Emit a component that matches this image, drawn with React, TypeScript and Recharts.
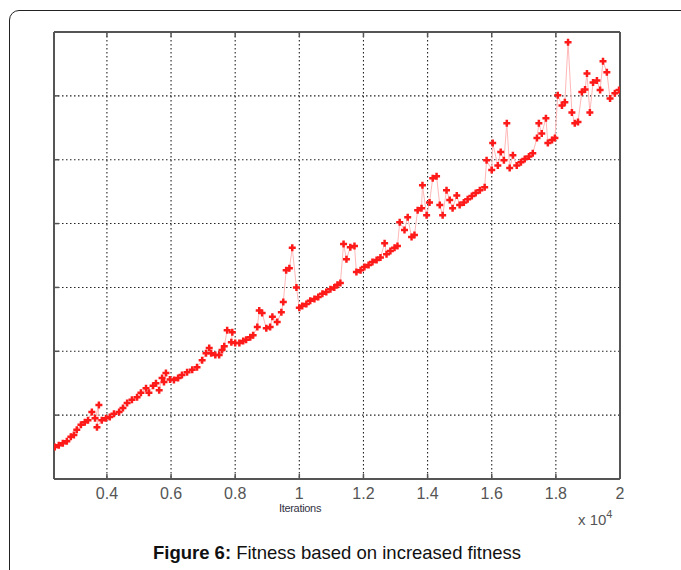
import React from "react";
import { LineChart, Line, XAxis, YAxis, CartesianGrid } from "recharts";

// iterations
const iterations = [
  2375, 2500, 2625, 2750, 2875, 2970, 3060, 3190, 3310, 3410, 3530, 3630, 3750, 3690, 3840,
  3970, 4090, 4220, 4380, 4500, 4630, 4780, 4940, 5060, 5220, 5310, 5440, 5530, 5630, 5720,
  5780, 5840, 5970, 6090, 6220, 6340, 6500, 6660, 6810, 6970, 7090, 7190, 7250, 7380, 7500,
  7590, 7660, 7750, 7910, 7880, 8000, 8130, 8250, 8340, 8470, 8560, 8690, 8750, 8840, 8970,
  9090, 9160, 9310, 9440, 9500, 9590, 9690, 9780, 9910, 10000, 10090, 10220, 10340, 10470, 10590,
  10720, 10840, 10970, 11090, 11190, 11280, 11380, 11470, 11590, 11720, 11780, 11910, 12030, 12160, 12280,
  12410, 12530, 12660, 12720, 12840, 12970, 13060, 13130, 13280, 13380, 13500, 13590, 13690, 13810, 13840,
  13970, 14060, 14160, 14280, 14380, 14470, 14590, 14690, 14780, 14910, 15000, 15130, 15250, 15380, 15500,
  15630, 15780, 15840, 16000, 16030, 16190, 16280, 16380, 16470, 16560, 16660, 16780, 16910, 17030, 17160,
  17280, 17410, 17470, 17560, 17690, 17750, 17880, 17970, 18060, 18190, 18280, 18380, 18500, 18590, 18690,
  18810, 18910, 18970, 19060, 19160, 19280, 19380, 19470, 19590, 19690, 19840, 19970,
];

const fitness = [
  0.5, 0.53, 0.56, 0.59, 0.66, 0.69, 0.77, 0.85, 0.89, 0.92, 1.05, 0.95, 1.16, 0.81, 0.92,
  0.95, 0.97, 1.02, 1.05, 1.11, 1.19, 1.24, 1.28, 1.35, 1.42, 1.35, 1.46, 1.5, 1.39, 1.58,
  1.52, 1.66, 1.56, 1.55, 1.58, 1.63, 1.67, 1.71, 1.75, 1.86, 1.97, 2.05, 1.97, 1.94, 1.94,
  2.02, 2.08, 2.33, 2.3, 2.14, 2.13, 2.13, 2.16, 2.18, 2.22, 2.25, 2.38, 2.64, 2.6, 2.36,
  2.38, 2.54, 2.46, 2.61, 2.77, 3.27, 3.3, 3.62, 3.0, 2.68, 2.71, 2.74, 2.79, 2.82, 2.85,
  2.9, 2.93, 2.97, 3.0, 3.04, 3.07, 3.68, 3.44, 3.63, 3.65, 3.24, 3.27, 3.32, 3.35, 3.4,
  3.43, 3.47, 3.69, 3.52, 3.57, 3.62, 3.65, 4.02, 3.9, 4.1, 3.79, 3.82, 4.21, 4.24, 4.6,
  4.13, 4.33, 4.71, 4.74, 4.29, 4.13, 4.52, 4.37, 4.24, 4.44, 4.29, 4.33, 4.38, 4.43, 4.48,
  4.52, 4.57, 4.99, 4.84, 5.26, 4.91, 5.12, 4.99, 5.57, 4.87, 5.07, 4.91, 4.96, 5.01, 5.05,
  5.1, 5.34, 5.57, 5.41, 5.65, 5.26, 5.31, 5.34, 6.01, 5.85, 5.9, 6.84, 5.74, 5.57, 5.59,
  6.06, 6.1, 6.35, 5.74, 6.21, 6.24, 6.09, 6.54, 6.37, 5.96, 6.04, 6.09,
];

const xTicks = [4000, 6000, 8000, 10000, 12000, 14000, 16000, 18000, 20000];
const yTicks = [0, 1, 2, 3, 4, 5, 6, 7];

const data = iterations.map((x, i) => ({ x, y: fitness[i] }));

const font = "Arial, 'Liberation Sans', Helvetica, sans-serif";
const frame = "#555";

const Plus = (props: any) => {
  const { cx, cy, key } = props;
  if (cx == null || cy == null) return null;
  return (
    <path
      key={key}
      d={`M${cx - 3.5},${cy}h7M${cx},${cy - 3.5}v7`}
      stroke="#ff1a1a"
      strokeWidth={2.5}
    />
  );
};

// no labels on these axes, only the inward tick marks
const NoLabel = () => <g />;

export default function App() {
  return (
    <div style={{ position: "absolute", left: 0, top: 0, width: 681, height: 570, overflow: "hidden", background: "#fff", fontFamily: font }}>
      <div
        style={{
          position: "absolute",
          left: 9,
          top: 10,
          width: 720,
          height: 620,
          border: "1px solid #222",
          borderTopLeftRadius: 10,
        }}
      />
      <div style={{ position: "absolute", left: 0, top: 0 }}>
        <LineChart width={681} height={570} data={data} margin={{ top: 31, right: 60, bottom: 61, left: 53 }}>
          <CartesianGrid stroke="#222" strokeWidth={1.1} strokeDasharray="1.5 2.5" />
          <XAxis
            dataKey="x"
            type="number"
            domain={[2350, 20000]}
            ticks={xTicks}
            allowDataOverflow
            tickFormatter={(v: number) => String(v / 10000)}
            height={30}
            axisLine={{ stroke: frame, strokeWidth: 2 }}
            tickLine={{ stroke: frame, strokeWidth: 1.5 }}
            tickSize={-5}
            tickMargin={14}
            tick={{ fill: "#555", fontSize: 16, fontFamily: font }}
            interval={0}
          />
          <XAxis
            xAxisId="top"
            orientation="top"
            dataKey="x"
            type="number"
            domain={[2350, 20000]}
            ticks={xTicks}
            allowDataOverflow
            height={1}
            axisLine={{ stroke: frame, strokeWidth: 2 }}
            tickLine={{ stroke: frame, strokeWidth: 1.5 }}
            tickSize={-5}
            tick={NoLabel}
            interval={0}
          />
          <YAxis
            type="number"
            domain={[0, 7]}
            ticks={yTicks}
            width={1}
            axisLine={{ stroke: frame, strokeWidth: 2 }}
            tickLine={{ stroke: frame, strokeWidth: 1.5 }}
            tickSize={-5}
            tick={NoLabel}
            interval={0}
          />
          <YAxis
            yAxisId="right"
            orientation="right"
            type="number"
            domain={[0, 7]}
            ticks={yTicks}
            width={1}
            axisLine={{ stroke: frame, strokeWidth: 2 }}
            tickLine={{ stroke: frame, strokeWidth: 1.5 }}
            tickSize={-5}
            tick={NoLabel}
            interval={0}
          />
          <Line
            dataKey="y"
            stroke="#ffb8b8"
            strokeWidth={1}
            dot={Plus}
            activeDot={false}
            isAnimationActive={false}
          />
        </LineChart>
      </div>
      <div style={{ position: "absolute", left: 250, width: 100, top: 502, textAlign: "center", fontSize: 11, color: "#334", letterSpacing: -0.3 }}>
        Iterations
      </div>
      <div style={{ position: "absolute", left: 578, top: 511, fontSize: 15, color: "#555" }}>
        x 10<span style={{ position: "relative", top: -7, fontSize: 11 }}>4</span>
      </div>
      <div style={{ position: "absolute", left: 0, width: 674, top: 542, textAlign: "center", fontSize: 18.5, color: "#111" }}>
        <b>Figure 6:</b> Fitness based on increased fitness
      </div>
    </div>
  );
}
